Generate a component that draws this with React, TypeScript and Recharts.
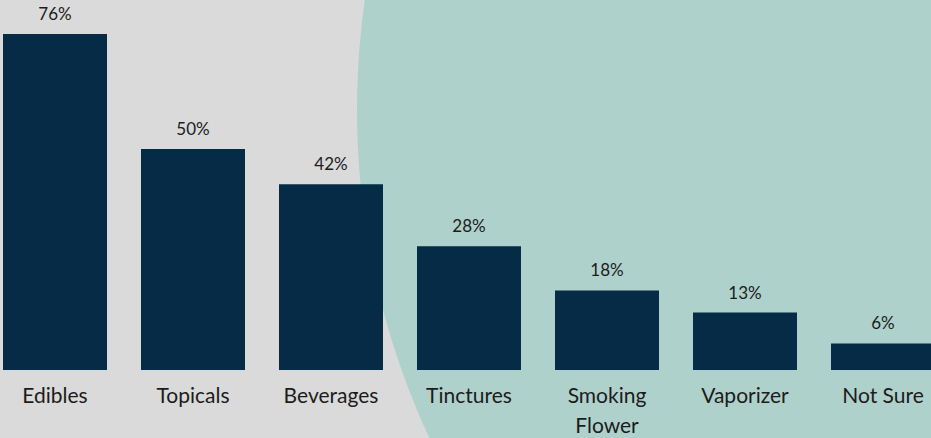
import React from 'react';
import { BarChart, Bar, XAxis, YAxis, LabelList, Text } from 'recharts';

const categories = ['Edibles', 'Topicals', 'Beverages', 'Tinctures', 'Smoking Flower', 'Vaporizer', 'Not Sure'];
const shares = [76, 50, 42, 28, 18, 13, 6];

const data = categories.map((name, i) => ({ name, share: shares[i] }));

const FONT = 'Lato, "Open Sans", sans-serif';
const INK = '#1c1c1c';

function CategoryTick(props: any) {
  const { x, y, payload } = props;
  const style = { fontFamily: FONT, fontSize: 21 };
  return (
    <Text
      x={x}
      y={y}
      dy={10}
      width={112}
      textAnchor="middle"
      verticalAnchor="start"
      lineHeight={30}
      style={style}
      fill={INK}
    >
      {payload.value}
    </Text>
  );
}

export default function App() {
  return (
    <div
      style={{
        position: 'fixed', top: 0, left: 0, width: 931, height: 438,
        overflow: 'hidden', background: '#dadada',
      }}
    >
      {/* large teal disc behind the right side */}
      <div
        style={{
          position: 'absolute', left: 357, top: -670, width: 1560, height: 1560,
          borderRadius: '50%', background: '#afd1cb',
        }}
      />
      <div style={{ position: 'absolute', left: -14, top: 0 }}>
        <BarChart
          width={966}
          height={438}
          data={data}
          margin={{ top: 34, right: 0, bottom: 38, left: 0 }}
          barSize={104}
        >
          <XAxis
            dataKey="name"
            height={30}
            axisLine={false}
            tickLine={false}
            interval={0}
            tick={<CategoryTick />}
          />
          <YAxis hide domain={[0, 76]} />
          <Bar dataKey="share" fill="#062b47" isAnimationActive={false}>
            <LabelList
              dataKey="share"
              position="top"
              offset={14}
              formatter={(v: any) => `${v}%`}
              style={{ fontFamily: FONT, fontSize: 17, fill: INK }}
            />
          </Bar>
        </BarChart>
      </div>
    </div>
  );
}
